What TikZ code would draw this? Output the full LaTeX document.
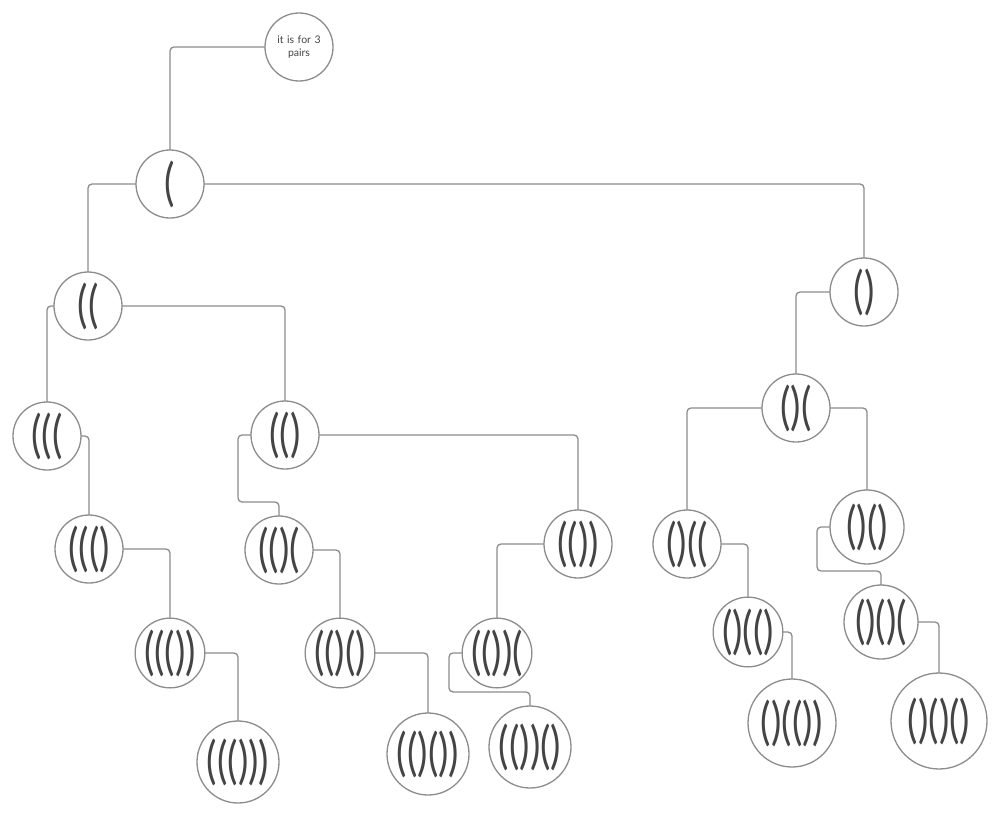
\documentclass[tikz,border=0pt]{standalone}
\usepackage{fontspec}
\setmainfont{Lato}
\newfontfamily\parfont[FakeStretch=0.76]{Lato}
\definecolor{edge}{HTML}{8C8C8C}
\definecolor{ink}{HTML}{444444}
\begin{document}
\begin{tikzpicture}[x=1pt,y=-1pt,
  st/.style={circle,draw=edge,line width=1.3pt,fill=white,inner sep=0pt,outer sep=0pt,
    minimum size=68pt,text=ink,font=\parfont\fontsize{51}{51}\selectfont},
  big/.style={st,minimum size=82pt},
  bigger/.style={st,minimum size=88pt},
  huge/.style={st,minimum size=96pt},
  mid/.style={st,minimum size=74pt},
  note/.style={circle,draw=edge,line width=1.3pt,fill=white,inner sep=0pt,outer sep=0pt,
    minimum size=68pt,text=ink,font=\fontsize{10.5}{12.5}\selectfont,align=center,text width=48pt},
  con/.style={draw=edge,line width=1.3pt,rounded corners=4pt}]
\useasboundingbox (0,0) rectangle (1000,816);
\node[note] (top) at (299,47) {\raisebox{5pt}{\parbox{48pt}{\centering it is for 3\\pairs}}};
\node[st] (a) at (170,184) {(};
\node[st] (b) at (88,306) {((};
\node[st] (c) at (864,292) {()};
\node[st] (d) at (47,436) {(((};
\node[st] (e) at (285,435) {(()};
\node[st] (f) at (796,408) {()(};
\node[st] (g) at (89,549) {((()};
\node[st] (h) at (279,550) {(()(};
\node[st] (i) at (578,544) {(())};
\node[st] (j) at (687,544) {()((};
\node[mid] (k) at (867,527) {()()};
\node[st] (l) at (170,653) {((())};
\node[st] (m) at (340,653) {(()()};
\node[st] (n) at (497,653) {(())(};
\node[st] (o) at (748,632) {()(()};
\node[mid] (p) at (881,622) {()()(};
\node[big] (q) at (238,762) {((()))};
\node[big] (r) at (428,754) {(()())};
\node[big] (s) at (530,747) {(())()};
\node[bigger] (t) at (792,723) {()(())};
\node[huge] (u) at (939,721) {()()()};
\coordinate (k1) at (238,502);
\coordinate (k2) at (817,571);
\coordinate (k3) at (449,692);
\path[con] (top.west) -| (a.north);
\path[con] (a.west) -| (b.north);
\path[con] (a.east) -| (c.north);
\path[con] (b.west) -| (d.north);
\path[con] (b.east) -| (e.north);
\path[con] (d.east) -| (g.north);
\path[con] (e.west) -| (k1) -| (h.north);
\path[con] (e.east) -| (i.north);
\path[con] (c.west) -| (f.north);
\path[con] (f.west) -| (j.north);
\path[con] (f.east) -| (k.north);
\path[con] (g.east) -| (l.north);
\path[con] (h.east) -| (m.north);
\path[con] (i.west) -| (n.north);
\path[con] (j.east) -| (o.north);
\path[con] (k.west) -| (k2) -| (p.north);
\path[con] (l.east) -| (q.north);
\path[con] (m.east) -| (r.north);
\path[con] (n.west) -| (k3) -| (s.north);
\path[con] (o.east) -| (t.north);
\path[con] (p.east) -| (u.north);
\end{tikzpicture}
\end{document}
